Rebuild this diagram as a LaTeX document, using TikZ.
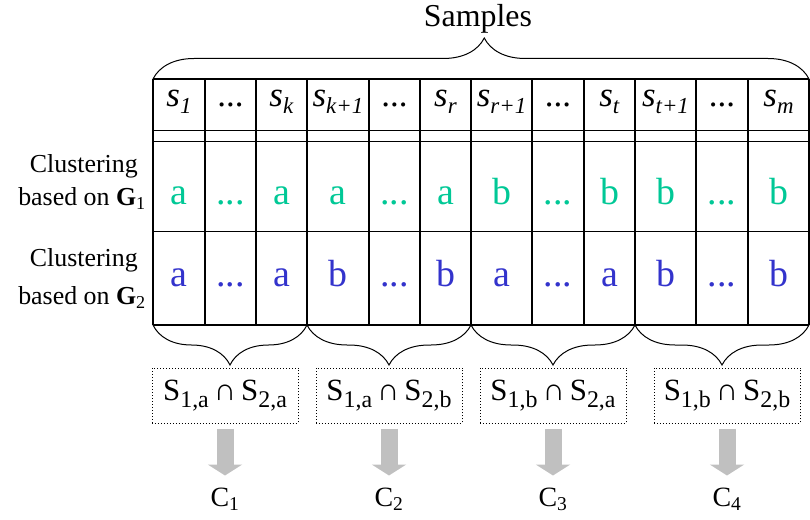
\documentclass[tikz,border=0pt]{standalone}
\usepackage{fontspec}
\setmainfont{Liberation Serif}[Ligatures=TeX]
\usetikzlibrary{arrows.meta, positioning, decorations.pathreplacing}
\usepackage{xcolor}
\definecolor{clustA}{RGB}{0,200,150}
\definecolor{clustB}{RGB}{51,51,204}
\definecolor{arrowgray}{RGB}{192,192,192}
\newcommand{\smp}[1]{\textit{s}\raisebox{-7bp}{\fontsize{23}{23}\selectfont\textit{#1}}}
\newcommand{\dts}{...}
\newcommand{\setsub}[1]{\raisebox{-7bp}{\fontsize{24}{24}\selectfont #1}}
\newcommand{\inter}[2]{S\setsub{#1}\hspace{5bp}∩\hspace{5bp}S\setsub{#2}}

\begin{document}
\begin{tikzpicture}[
    x=1bp, y=-1bp,
    font=\rmfamily,
    node distance=64bp,
    grid/.style={line width=1.2bp},
    head/.style={anchor=base, inner sep=0pt, font=\rmfamily\fontsize{35}{38}\selectfont},
    cell/.style={anchor=base, inner sep=0pt, font=\rmfamily\fontsize{38}{42}\selectfont},
    rowlabel/.style={anchor=base east, inner sep=0pt, font=\rmfamily\fontsize{26}{30}\selectfont},
    bracket/.style={decorate, decoration={brace, amplitude=#1}, line width=1bp},
    group/.style={rectangle, draw, dotted, line width=1bp, minimum width=146bp, minimum height=55bp, inner sep=0pt, font=\rmfamily\fontsize{31}{34}\selectfont},
    clabel/.style={inner sep=0pt, font=\rmfamily\fontsize{28}{32}\selectfont},
    arrow/.style={line width=17bp, arrowgray, shorten <=5bp, shorten >=12bp, -{Triangle[width=34bp, length=11bp]}}
]
\useasboundingbox (0,0) rectangle (810,520);

% table
\foreach \x in {153,205,256,307,369,420,471,532,584,635,696,748,809}
    \draw [grid] (\x,79) -- (\x,325);
\foreach \y in {79,130.7,141.7,231.7,325}
    \draw [grid] (153,\y) -- (809,\y);

\foreach \n/\x/\s/\u/\v in {
    1/179/{\smp{1}}/a/a, 2/230.5/{\dts}/{\dts}/{\dts}, 3/281.5/{\smp{k}}/a/a,
    4/338/{\smp{k+1}}/a/b, 5/394.5/{\dts}/{\dts}/{\dts}, 6/445.5/{\smp{r}}/a/b,
    7/501.5/{\smp{r+1}}/b/a, 8/558/{\dts}/{\dts}/{\dts}, 9/609.5/{\smp{t}}/b/a,
    10/665.5/{\smp{t+1}}/b/b, 11/722/{\dts}/{\dts}/{\dts}, 12/778.5/{\smp{m}}/b/b}
{
    \node [head] (s\n) at (\x,106.7) {\s};
    \node [cell, text=clustA] (g\n) at (\x,205) {\u};
    \node [cell, text=clustB] (h\n) at (\x,286.7) {\v};
}

\node [rowlabel] (L1) at (138,172.7) {Clustering};
\node [rowlabel] (L2) at (146,206) {based on \textbf{G}\textsubscript{1}};
\node [rowlabel] (L3) at (138,266.7) {Clustering};
\node [rowlabel] (L4) at (146,305) {based on \textbf{G}\textsubscript{2}};

% braces
\draw [bracket=41bp, decoration={aspect=0.505}] (153,79) -- (809,79);
\node [anchor=base, inner sep=0pt, font=\rmfamily\fontsize{32}{36}\selectfont] (samples) at (478,27) {Samples};

\draw [bracket=40bp] (307,325) -- (153,325);
\draw [bracket=40bp] (471,325) -- (307,325);
\draw [bracket=40bp] (635,325) -- (471,325);
\draw [bracket=40bp] (809,325) -- (635,325);

\node (i1) [group] at (225,395.5) {\inter{1,a}{2,a}};
\node (i2) [group] at (389,395.5) {\inter{1,a}{2,b}};
\node (i3) [group] at (553,395.5) {\inter{1,b}{2,a}};
\node (i4) [group] at (727,395.5) {\inter{1,b}{2,b}};

\node (c1) [clabel, below=of i1] {C\textsubscript{1}};
\node (c2) [clabel, below=of i2] {C\textsubscript{2}};
\node (c3) [clabel, below=of i3] {C\textsubscript{3}};
\node (c4) [clabel, below=of i4] {C\textsubscript{4}};

\draw [arrow] (i1) -- (c1);
\draw [arrow] (i2) -- (c2);
\draw [arrow] (i3) -- (c3);
\draw [arrow] (i4) -- (c4);

\end{tikzpicture}
\end{document}
